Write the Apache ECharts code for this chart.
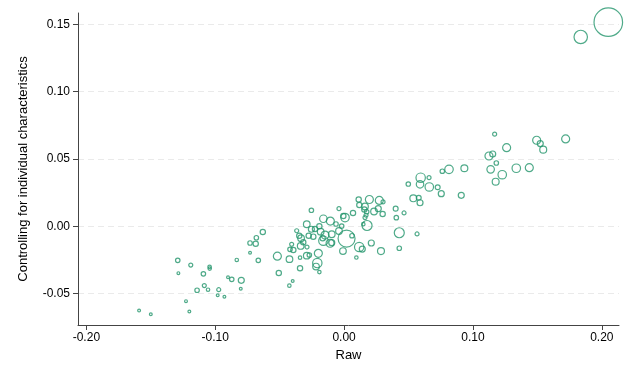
<!DOCTYPE html>
<html>
<head>
<meta charset="utf-8">
<script src="https://cdn.jsdelivr.net/npm/echarts@6/dist/echarts.min.js"></script>
<style>
  html, body { margin: 0; padding: 0; background: #fff; }
  #chart { width: 630px; height: 378px; }
</style>
</head>
<body>
<div id="chart"></div>
<script>
// raw gap (x), gap controlling for individual characteristics (y), weight (bubble area)
const rawGap = [
  0.2050, 0.1836, 0.1168, 0.1494, 0.1522, 0.1545, 0.1719, 0.1261, 0.1124, 0.1153,
  0.1181, 0.1137, 0.1227, 0.1336, 0.1437, 0.1176, 0.0814, 0.0762, 0.0933, 0.0594,
  0.0659, 0.0498, 0.0589, 0.0661, 0.0726, 0.0754, 0.0909, 0.0537, 0.0579, 0.0589,
  0.0465, 0.0428, 0.0566, 0.0428, 0.0286, 0.0211, 0.0400, 0.0405, 0.0196, 0.0273,
  0.0302, 0.0113, 0.0118, 0.0162, 0.0157, 0.0175, 0.0232, 0.0265, 0.0299, 0.0069,
  -0.0006, 0.0162, 0.0178, 0.0149, -0.0019, 0.0019, -0.0009, 0.0117, 0.0141, 0.0095,
  0.0061, -0.0040, -0.0096, 0.0007, -0.0040, -0.0063, -0.0107, -0.0161, -0.0254, -0.0290,
  -0.0368, -0.0254, -0.0275, -0.0239, -0.0192, -0.0182, -0.0148, -0.0096, -0.0166, -0.0334,
  -0.0317, -0.0109, -0.0337, -0.0407, -0.0420, -0.0394, -0.0290, -0.0270, -0.0342, -0.0200,
  -0.0208, -0.0218, -0.0192, -0.0518, -0.0424, -0.0507, -0.0342, -0.0425, -0.0399, -0.0666,
  -0.0631, -0.0681, -0.0686, -0.0730, -0.0730, -0.0833, -0.0798, -0.0802, -0.0901, -0.0872,
  -0.0973, -0.0981, -0.0929, -0.1044, -0.1043, -0.1092, -0.1085, -0.1056, -0.1141, -0.1190,
  -0.1291, -0.1286, -0.1227, -0.1201, -0.1591, -0.1500, -0.0348, -0.0288, -0.0226, -0.0161,
  0.0170
];
const controlledGap = [
  0.1516, 0.1406, 0.0684, 0.0639, 0.0614, 0.0569, 0.0649, 0.0584, 0.0522, 0.0537,
  0.0470, 0.0423, 0.0383, 0.0431, 0.0435, 0.0331, 0.0423, 0.0409, 0.0431, 0.0361,
  0.0361, 0.0314, 0.0312, 0.0292, 0.0290, 0.0242, 0.0230, 0.0208, 0.0212, 0.0175,
  0.0099, -0.0048, -0.0057, -0.0163, -0.0184, -0.0124, 0.0131, 0.0064, 0.0199, 0.0192,
  0.0181, 0.0199, 0.0158, 0.0147, 0.0125, 0.0108, 0.0110, 0.0131, 0.0091, 0.0099,
  0.0077, 0.0065, 0.0006, 0.0016, 0.0002, -0.0091, -0.0184, -0.0154, -0.0169, -0.0232,
  -0.0070, -0.0035, -0.0122, 0.0065, 0.0131, 0.0017, 0.0039, 0.0056, 0.0119, 0.0015,
  -0.0033, -0.0022, -0.0070, -0.0077, 0.0000, -0.0040, -0.0065, -0.0059, -0.0089, -0.0089,
  -0.0119, -0.0126, -0.0146, -0.0134, -0.0171, -0.0176, -0.0218, -0.0213, -0.0233, -0.0201,
  -0.0273, -0.0299, -0.0340, -0.0222, -0.0244, -0.0347, -0.0312, -0.0441, -0.0406, -0.0253,
  -0.0042, -0.0085, -0.0130, -0.0124, -0.0196, -0.0250, -0.0401, -0.0464, -0.0379, -0.0394,
  -0.0471, -0.0512, -0.0523, -0.0301, -0.0314, -0.0353, -0.0440, -0.0471, -0.0475, -0.0288,
  -0.0253, -0.0348, -0.0556, -0.0633, -0.0626, -0.0653, -0.0070, -0.0154, -0.0020, -0.0107,
  0.0082
];
const weight = [
  204, 45, 4, 16, 9, 12, 16, 16, 16, 9,
  5, 14, 18, 18, 16, 12, 18, 5, 12, 22,
  4, 5, 14, 18, 6, 9, 9, 12, 6, 9,
  4, 25, 4, 5, 12, 9, 6, 5, 16, 16,
  4, 7, 7, 11, 7, 5, 11, 9, 7, 7,
  7, 4, 25, 3, 5, 72, 11, 22, 9, 3,
  5, 11, 9, 18, 4, 5, 16, 14, 5, 11,
  4, 9, 7, 7, 7, 11, 16, 11, 7, 11,
  7, 16, 11, 4, 5, 7, 11, 5, 3, 16,
  22, 11, 3, 16, 11, 7, 7, 3, 2, 5,
  7, 5, 7, 5, 2, 3, 9, 2, 2, 5,
  4, 2, 2, 3, 3, 5, 4, 3, 5, 4,
  5, 2, 2, 2, 2, 2, 7, 4, 7, 22,
  4
];
const xTicks = [-0.2, -0.1, 0, 0.1, 0.2];
const yTicks = [-0.05, 0, 0.05, 0.1, 0.15];

const points = rawGap.map((x, i) => [x, controlledGap[i], weight[i]]);

const chart = echarts.init(document.getElementById('chart'));
const font = 'Liberation Sans, Arial, sans-serif';

chart.setOption({
  animation: false,
  grid: { left: 78, right: 11, top: 13, bottom: 53 },
  xAxis: {
    type: 'value',
    min: -0.2065,
    max: 0.2133,
    name: 'Raw',
    nameLocation: 'middle',
    nameGap: 23,
    nameTextStyle: { color: '#000', fontFamily: font, fontSize: 13 },
    axisLine: { show: true, onZero: false, lineStyle: { color: '#444', width: 1 } },
    axisTick: { show: true, customValues: xTicks, length: 5, lineStyle: { color: '#444' } },
    axisLabel: {
      customValues: xTicks, color: '#000', fontFamily: font, fontSize: 12, margin: 7,
      formatter: v => v.toFixed(2)
    },
    splitLine: { show: false }
  },
  yAxis: {
    type: 'value',
    min: -0.0733,
    max: 0.1584,
    name: 'Controlling for individual characteristics',
    nameLocation: 'middle',
    nameGap: 48,
    nameTextStyle: { color: '#000', fontFamily: font, fontSize: 13 },
    axisLine: { show: true, onZero: false, lineStyle: { color: '#444', width: 1 } },
    axisTick: { show: true, customValues: yTicks, length: 5, lineStyle: { color: '#444' } },
    axisLabel: {
      customValues: yTicks, color: '#000', fontFamily: font, fontSize: 12, margin: 8,
      formatter: v => v.toFixed(2)
    },
    splitLine: { show: true, lineStyle: { color: '#eaeaea', type: [6, 4], width: 1 } }
  },
  series: [{
    type: 'scatter',
    data: points,
    symbol: 'circle',
    symbolSize: v => 2 * Math.sqrt(v[2]),
    itemStyle: { color: 'rgba(0,0,0,0)', borderColor: '#23956b', borderWidth: 1.2 }
  }]
});
</script>
</body>
</html>
